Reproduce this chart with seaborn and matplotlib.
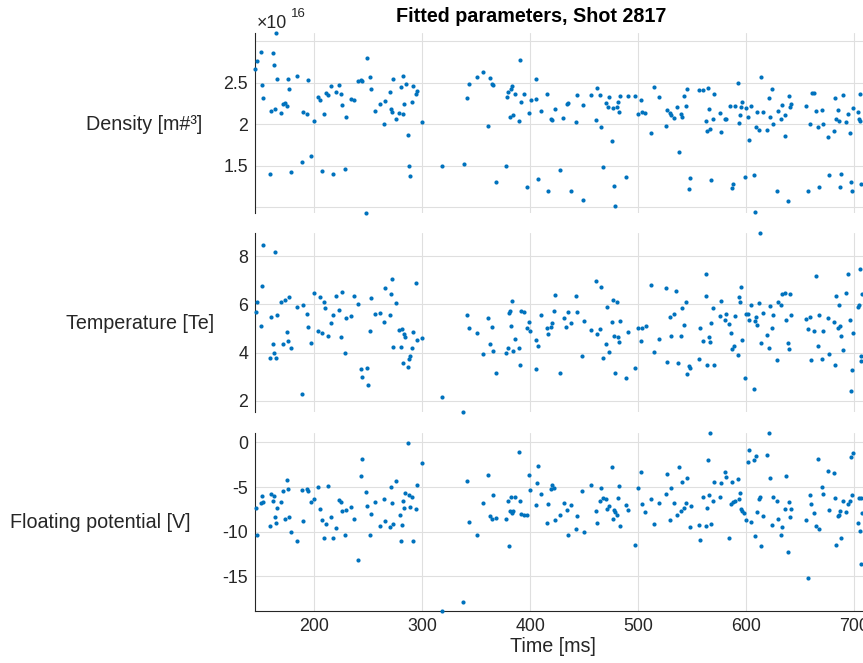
import matplotlib
matplotlib.use("Agg")
import matplotlib.pyplot as plt
import seaborn as sns

# ---------------- data ----------------
title_text = "Fitted parameters, Shot 2817"
xlabel_text = "Time [ms]"
panel_labels = ["Density [m#³]", "Temperature [Te]", "Floating potential [V]"]
x_ticks = [200, 300, 400, 500, 600, 700]

density_scale_exp = 16  # values below are in units of 1e16 m^-3
density_ticks = [1.0, 1.5, 2.0, 2.5, 3.0]
density_tick_labels = ["", "1.5", "2", "2.5", ""]
temperature_ticks = [2, 4, 6, 8]
potential_ticks = [-15, -10, -5, 0]

time_density = [
    145.2, 146.8, 150.8, 151.7, 152.9, 158.8, 159.7, 161.5, 162.8, 163.7,
    164.6, 165.8, 169.8, 170.8, 172.6, 174.8, 176.0, 176.9, 178.8, 184.6,
    188.6, 189.5, 193.8, 194.8, 197.5, 200.0, 203.4, 205.5, 207.7, 209.5,
    210.8, 212.6, 215.7, 217.8, 220.6, 223.4, 224.6, 225.8, 228.6, 229.5,
    234.5, 236.6, 240.3, 243.1, 244.6, 248.3, 249.2, 251.4, 252.6, 256.3,
    261.2, 264.3, 265.2, 270.2, 271.1, 272.3, 273.2, 275.4, 278.8, 280.3,
    281.8, 282.2, 283.4, 284.6, 286.5, 287.4, 288.3, 290.5, 291.4, 294.5,
    295.4, 299.4, 318.2, 338.5, 341.2, 343.1, 350.5, 356.3, 360.9, 363.1,
    364.3, 365.5, 368.0, 377.8, 378.8, 379.7, 381.2, 381.8, 383.1, 384.3,
    386.2, 389.5, 390.2, 391.7, 393.8, 396.9, 398.8, 400.3, 404.9, 405.8,
    407.1, 410.2, 415.1, 416.9, 418.8, 420.0, 422.8, 427.1, 430.5, 433.8,
    434.8, 437.5, 442.5, 443.7, 448.6, 449.2, 456.3, 460.6, 461.5, 464.6,
    465.5, 467.7, 470.5, 471.7, 472.6, 475.4, 476.6, 477.5, 478.5, 480.6,
    481.5, 482.5, 483.4, 488.6, 490.5, 496.6, 499.4, 502.5, 503.4, 506.5,
    511.7, 514.5, 519.4, 525.2, 526.5, 529.2, 530.2, 533.5, 535.4, 537.5,
    539.1, 540.6, 542.5, 544.5, 545.5, 547.1, 548.3, 556.3, 560.0, 562.5,
    563.7, 564.3, 565.2, 566.5, 567.4, 569.5, 570.2, 575.4, 576.3, 580.0,
    581.2, 584.6, 586.8, 588.0, 589.2, 592.3, 593.5, 594.2, 595.1, 596.3,
    598.5, 600.0, 601.2, 602.5, 604.3, 607.4, 608.3, 609.2, 610.2, 611.4,
    613.2, 615.1, 619.4, 621.2, 622.2, 623.4, 624.3, 628.3, 629.2, 632.3,
    633.2, 635.4, 636.0, 638.2, 639.1, 640.0, 641.0, 655.4, 657.2, 659.1,
    660.3, 662.2, 664.0, 666.2, 667.1, 670.2, 671.1, 676.0, 676.9, 680.9,
    681.8, 683.1, 684.9, 685.8, 687.1, 688.0, 689.8, 692.0, 693.8, 696.0,
    697.2, 697.8, 699.1, 703.1, 704.0, 705.2, 705.5, 706.2,
]
density = [
    2.665, 2.757, 2.865, 2.468, 2.315, 1.396, 2.163, 2.857, 2.709, 2.187,
    3.102, 2.544, 2.139, 2.239, 2.255, 2.219, 2.544, 2.420, 1.428, 2.584,
    1.540, 2.147, 2.118, 2.528, 1.620, 2.038, 2.327, 2.295, 1.436, 2.127,
    2.380, 2.351, 2.456, 1.404, 2.388, 2.472, 2.363, 2.235, 1.460, 2.082,
    2.299, 2.291, 2.516, 2.528, 2.520, 0.926, 2.793, 2.564, 2.424, 2.155,
    2.239, 2.006, 2.279, 2.384, 2.187, 2.147, 2.540, 2.062, 2.135, 2.452,
    2.127, 2.576, 2.239, 2.480, 1.873, 1.496, 1.372, 2.263, 2.464, 2.359,
    2.396, 2.022, 1.500, 1.520, 2.319, 2.484, 2.564, 2.624, 1.978, 2.560,
    2.480, 2.476, 1.303, 1.492, 2.327, 2.392, 2.082, 2.420, 2.456, 2.110,
    2.367, 2.034, 2.769, 2.263, 2.367, 1.243, 2.135, 2.291, 2.307, 2.548,
    1.335, 2.155, 2.367, 1.195, 2.058, 2.050, 2.183, 1.448, 2.074, 2.243,
    2.251, 1.199, 2.026, 2.355, 1.086, 2.231, 2.355, 2.054, 2.432, 2.351,
    1.962, 1.480, 2.259, 2.207, 2.327, 1.801, 2.191, 1.251, 1.018, 2.203,
    2.263, 2.151, 2.335, 1.363, 2.339, 2.343, 2.127, 2.291, 2.151, 2.139,
    1.890, 2.448, 2.327, 1.974, 2.167, 2.131, 2.110, 2.078, 2.203, 1.661,
    2.127, 2.090, 2.335, 2.215, 2.424, 1.215, 1.347, 2.408, 2.416, 2.038,
    1.922, 2.432, 2.183, 1.946, 1.323, 2.058, 2.367, 2.139, 1.902, 2.058,
    2.062, 2.215, 1.235, 1.275, 2.215, 2.492, 2.018, 2.114, 2.211, 2.267,
    1.359, 2.195, 2.086, 1.809, 2.215, 1.384, 0.942, 1.962, 2.143, 1.934,
    2.568, 2.143, 1.934, 2.319, 2.082, 2.420, 1.998, 1.191, 2.163, 2.062,
    2.235, 2.110, 1.857, 1.070, 2.339, 2.211, 2.239, 2.219, 1.199, 2.006,
    2.376, 2.376, 2.159, 1.970, 1.239, 2.175, 1.998, 1.845, 1.384, 1.922,
    2.319, 2.066, 2.171, 2.038, 1.243, 1.404, 2.351, 2.030, 2.118, 1.894,
    1.300, 1.199, 2.199, 2.143, 2.062, 2.042, 2.367, 1.283,
]

time_temperature = [
    145.8, 146.8, 150.8, 151.7, 152.6, 158.8, 159.7, 161.5, 162.8, 163.7,
    164.9, 165.8, 169.8, 170.8, 172.9, 174.8, 175.7, 176.9, 178.8, 184.6,
    188.6, 189.5, 193.8, 194.8, 197.5, 199.7, 203.7, 205.5, 207.7, 209.5,
    210.5, 212.6, 215.7, 217.5, 220.6, 223.4, 224.6, 225.8, 228.6, 229.5,
    234.5, 236.6, 240.3, 243.4, 244.6, 248.6, 249.5, 251.4, 252.6, 256.3,
    261.2, 264.3, 265.2, 270.2, 271.4, 272.3, 273.2, 275.4, 278.8, 280.3,
    281.5, 282.5, 283.1, 284.3, 286.5, 287.4, 288.3, 290.5, 291.4, 294.5,
    295.4, 299.4, 318.2, 338.2, 341.2, 343.1, 350.5, 356.3, 360.9, 363.1,
    364.3, 365.2, 368.0, 377.8, 379.1, 380.0, 381.2, 382.2, 383.1, 384.3,
    386.2, 389.5, 390.2, 391.7, 393.8, 396.9, 399.1, 400.0, 404.9, 405.8,
    407.1, 410.2, 415.1, 416.9, 418.8, 420.0, 422.2, 422.8, 427.1, 430.8,
    433.5, 434.8, 437.5, 442.5, 443.7, 448.3, 449.5, 456.6, 460.6, 461.5,
    464.6, 465.5, 467.7, 470.5, 471.4, 472.6, 475.4, 476.6, 477.5, 478.8,
    480.6, 481.5, 482.5, 483.4, 488.6, 490.8, 496.6, 499.4, 502.5, 503.4,
    506.8, 511.7, 514.5, 519.4, 525.2, 526.2, 529.5, 530.5, 533.2, 535.1,
    537.2, 539.4, 540.3, 542.2, 544.0, 545.2, 547.1, 548.3, 556.3, 557.2,
    560.0, 562.2, 563.1, 564.0, 565.2, 566.5, 567.1, 569.2, 570.2, 575.4,
    576.3, 580.3, 581.2, 584.3, 586.2, 587.1, 588.3, 589.2, 592.3, 593.2,
    594.2, 595.1, 596.3, 598.5, 600.0, 601.5, 602.5, 604.0, 607.1, 608.3,
    609.2, 610.2, 611.4, 612.3, 613.2, 615.1, 619.1, 620.9, 622.2, 623.4,
    624.3, 628.3, 629.2, 632.3, 633.2, 635.4, 636.3, 638.2, 639.1, 640.3,
    641.2, 655.1, 657.2, 659.1, 660.0, 662.2, 664.0, 666.2, 667.1, 670.2,
    671.1, 676.0, 676.9, 680.9, 681.8, 683.1, 684.9, 685.8, 687.1, 688.0,
    689.8, 692.0, 693.8, 696.0, 696.9, 697.8, 699.1, 703.1, 704.0, 705.2,
    705.8, 706.5, 707.4,
]
temperature = [
    5.69, 6.08, 5.12, 6.78, 8.46, 3.78, 5.48, 4.36, 4.00, 8.15,
    3.78, 5.58, 6.11, 4.36, 6.19, 4.87, 4.49, 6.30, 4.18, 5.90,
    2.29, 5.97, 5.59, 5.05, 4.40, 6.48, 4.90, 6.30, 4.82, 6.11,
    5.83, 4.69, 5.22, 5.54, 6.33, 5.76, 4.65, 6.53, 3.98, 5.43,
    5.50, 6.34, 6.02, 3.32, 2.98, 3.35, 2.65, 4.89, 6.27, 5.62,
    5.66, 5.28, 6.69, 5.54, 6.45, 7.07, 4.25, 6.06, 4.92, 4.25,
    4.98, 3.55, 4.79, 4.63, 3.39, 3.75, 3.85, 4.20, 4.85, 6.88,
    4.53, 4.60, 2.15, 1.54, 5.57, 5.01, 4.80, 3.96, 5.43, 4.35,
    5.07, 4.07, 3.16, 3.99, 4.18, 5.65, 5.72, 5.12, 6.15, 4.06,
    4.57, 4.21, 3.48, 5.72, 5.68, 5.01, 5.26, 4.89, 4.54, 3.32,
    4.27, 5.57, 5.03, 4.76, 5.07, 5.23, 5.72, 6.38, 3.15, 5.43,
    5.08, 5.68, 5.21, 6.33, 5.70, 3.85, 5.30, 4.94, 6.96, 4.78,
    4.99, 6.74, 3.77, 4.36, 5.88, 4.04, 5.29, 6.19, 4.69, 3.17,
    6.09, 4.65, 4.43, 5.30, 2.95, 4.85, 3.35, 5.04, 4.50, 5.04,
    5.10, 6.81, 4.02, 4.57, 6.69, 3.63, 5.46, 4.69, 5.62, 6.55,
    3.55, 4.68, 5.87, 5.14, 6.11, 3.10, 3.44, 3.37, 3.75, 5.01,
    4.50, 6.33, 7.24, 3.49, 4.63, 4.46, 5.21, 5.84, 3.49, 5.51,
    6.12, 5.36, 5.62, 5.18, 4.82, 4.13, 4.29, 5.50, 3.89, 6.30,
    6.09, 6.73, 4.53, 2.94, 5.62, 5.62, 5.35, 5.99, 2.51, 5.33,
    5.46, 5.16, 6.04, 8.97, 4.38, 5.66, 4.75, 4.20, 5.94, 5.01,
    5.58, 3.71, 6.08, 5.97, 6.45, 6.49, 5.34, 4.38, 4.13, 6.41,
    5.55, 5.39, 4.99, 5.48, 3.71, 4.89, 7.17, 4.28, 5.58, 3.73,
    4.90, 5.43, 3.96, 5.28, 3.49, 6.33, 5.04, 5.97, 5.12, 4.68,
    4.09, 6.49, 7.25, 5.37, 2.43, 3.28, 4.82, 5.90, 5.97, 7.47,
    3.84, 3.64, 6.45,
]

time_potential = [
    145.8, 146.8, 150.8, 151.7, 152.9, 158.8, 159.7, 161.5, 162.8, 163.7,
    164.6, 165.8, 169.8, 170.8, 172.6, 174.8, 175.7, 176.9, 178.8, 184.6,
    188.6, 189.5, 193.8, 194.8, 197.5, 199.7, 203.7, 205.5, 207.7, 209.5,
    210.8, 212.6, 215.7, 217.8, 220.6, 223.4, 224.6, 225.5, 228.6, 229.5,
    234.5, 236.6, 240.3, 243.4, 244.6, 248.3, 249.2, 251.4, 252.6, 256.3,
    261.2, 264.3, 265.2, 270.2, 271.4, 272.3, 273.2, 275.4, 279.1, 280.3,
    281.5, 282.5, 283.4, 284.3, 286.5, 287.4, 288.6, 290.5, 291.4, 294.5,
    295.4, 299.4, 318.2, 338.2, 341.2, 343.1, 350.5, 356.3, 360.9, 363.1,
    364.3, 365.2, 368.0, 377.8, 379.1, 380.0, 381.2, 382.2, 383.1, 384.0,
    386.2, 389.2, 390.2, 391.7, 393.8, 396.9, 399.1, 400.0, 404.9, 406.2,
    407.1, 410.2, 415.1, 416.9, 418.8, 420.0, 422.2, 423.1, 427.1, 430.8,
    433.8, 434.8, 437.5, 442.8, 443.7, 448.3, 449.5, 456.6, 460.6, 461.5,
    464.6, 465.5, 467.7, 470.5, 471.4, 472.6, 475.4, 476.6, 477.5, 478.5,
    480.6, 481.5, 482.5, 483.4, 488.6, 490.5, 496.6, 499.4, 502.5, 503.7,
    506.5, 511.7, 514.5, 519.4, 525.2, 526.5, 529.5, 530.5, 533.5, 535.4,
    537.5, 539.4, 540.6, 542.5, 544.3, 545.5, 547.4, 548.6, 556.3, 557.2,
    560.0, 562.5, 563.4, 564.3, 565.2, 566.5, 567.4, 569.2, 570.2, 575.4,
    576.3, 580.3, 581.2, 584.3, 586.2, 587.1, 588.0, 589.2, 592.3, 593.2,
    594.2, 595.1, 596.3, 597.8, 600.0, 601.2, 602.5, 604.0, 607.1, 608.3,
    609.2, 610.2, 611.4, 612.3, 613.2, 615.1, 619.1, 620.9, 622.2, 623.4,
    624.3, 628.3, 629.2, 632.3, 633.2, 635.4, 636.3, 638.2, 639.1, 640.3,
    641.2, 655.1, 657.2, 659.1, 660.0, 662.2, 664.0, 666.2, 667.1, 670.2,
    671.1, 676.0, 676.9, 680.9, 681.8, 683.1, 684.9, 685.8, 687.1, 688.0,
    689.8, 692.0, 693.8, 696.0, 696.9, 697.8, 699.1, 703.1, 704.0, 705.2,
    705.8, 706.5, 707.4,
]
potential = [
    -7.31, -10.41, -6.83, -6.01, -6.68, -9.40, -5.78, -6.53, -5.97, -8.40,
    -9.07, -7.35, -6.72, -5.41, -8.62, -4.22, -5.19, -8.32, -10.00, -11.08,
    -5.30, -8.77, -5.22, -5.41, -6.72, -6.38, -4.96, -7.43, -8.69, -10.71,
    -9.10, -4.93, -8.40, -10.75, -9.63, -6.46, -6.64, -7.72, -10.37, -7.57,
    -7.28, -8.62, -13.21, -3.77, -1.87, -5.52, -7.09, -10.37, -8.02, -6.68,
    -9.40, -6.31, -8.84, -9.44, -4.96, -6.79, -9.10, -4.29, -8.10, -11.08,
    -9.29, -6.57, -7.31, -5.71, -0.07, -5.86, -7.20, -6.08, -11.00, -7.50,
    -4.81, -2.28, -18.92, -17.84, -4.33, -8.92, -10.41, -6.75, -3.62, -8.28,
    -8.54, -5.93, -8.43, -8.58, -6.53, -11.60, -7.65, -6.08, -7.95, -7.65,
    -6.16, -1.12, -6.53, -8.06, -8.13, -8.13, -3.66, -5.34, -7.01, -4.51,
    -2.69, -5.82, -9.07, -6.94, -5.19, -4.81, -5.15, -8.73, -8.10, -6.83,
    -7.57, -10.37, -7.01, -9.70, -8.25, -5.41, -10.04, -4.78, -7.69, -9.07,
    -6.57, -5.11, -6.19, -6.34, -7.43, -7.13, -2.80, -8.62, -7.57, -7.80,
    -8.13, -6.19, -4.89, -9.37, -7.05, -7.61, -11.46, -5.15, -3.32, -6.87,
    -7.76, -6.31, -9.18, -6.79, -5.75, -3.58, -8.69, -5.07, -6.83, -8.13,
    -2.72, -7.72, -4.48, -7.31, -6.83, -3.96, -9.51, -7.09, -9.22, -10.93,
    -6.08, -9.37, -7.31, -2.01, -5.90, 1.04, -9.10, -6.57, -4.48, -6.08,
    -4.55, -3.32, -3.84, -10.75, -6.90, -4.40, -6.68, -6.53, -4.10, -6.34,
    -5.63, -7.50, -7.72, -7.95, -8.73, -2.24, -0.86, -8.92, -1.98, -10.49,
    -1.46, -7.76, -6.31, -6.12, -11.64, -8.28, -1.42, 1.12, -4.03, -9.25,
    -6.16, -6.53, -8.54, -10.34, -9.44, -7.50, -3.77, -12.28, -6.64, -8.32,
    -7.46, -8.66, -15.19, -5.86, -6.90, -7.95, -9.40, -1.83, -9.70, -5.00,
    -5.82, -3.25, -7.54, -3.47, -6.23, -11.53, -8.25, -8.13, -7.65, -10.71,
    -6.53, -7.76, -6.94, -6.53, -1.68, -5.86, -1.16, -9.03, -6.19, -9.89,
    -6.23, -13.62, -7.95,
]

# ---------------- styling ----------------
sns.set_style("white")
plt.rcParams["font.family"] = ["Liberation Sans", "DejaVu Sans"]

BLUE = "#0072BD"
DARK = "#262626"
GRID = "#dfdfdf"
W, H = 863, 663
TICK_FS = 12.8
LABEL_FS = 14.2

fig = plt.figure(figsize=(W / 100, H / 100), dpi=100)

AX_LEFT_PX = 255
AX_RIGHT_PX = 900          # axes run past the right edge of the figure
XMIN = 145.3
PX_PER_MS = 1.0806
XMAX = XMIN + (AX_RIGHT_PX - AX_LEFT_PX) / PX_PER_MS


def add_axes(top_px, bottom_px):
    return fig.add_axes([AX_LEFT_PX / W, 1 - bottom_px / H,
                         (AX_RIGHT_PX - AX_LEFT_PX) / W,
                         (bottom_px - top_px) / H])


panels = [
    (time_density, density, density_ticks, density_tick_labels, 32.7, 213.3),
    (time_temperature, temperature, temperature_ticks,
     [str(v) for v in temperature_ticks], 232.7, 412.0),
    (time_potential, potential, potential_ticks,
     [str(v) for v in potential_ticks], 432.5, 611.3),
]

axes = []
for i, (tx, vy, yt, ytl, top_px, bot_px) in enumerate(panels):
    ax = add_axes(top_px, bot_px)
    sns.scatterplot(x=tx, y=vy, ax=ax, color=BLUE, s=9, linewidth=0,
                    clip_on=False, zorder=3)
    ax.set_xlim(XMIN, XMAX)
    ax.set_ylim(min(vy), max(vy))
    ax.set_xticks(x_ticks)
    ax.set_yticks(yt)
    ax.set_yticklabels(ytl)
    ax.set_xlabel("")
    ax.set_ylabel("")
    ax.grid(True, color=GRID, linewidth=0.8)
    ax.set_axisbelow(True)
    for side in ["top", "right"]:
        ax.spines[side].set_visible(False)
    ax.spines["left"].set_color(DARK)
    ax.spines["left"].set_linewidth(0.8)
    ax.tick_params(axis="y", direction="in", length=4.5, width=0.8,
                   color=DARK, labelcolor=DARK, labelsize=TICK_FS, pad=5)
    if i < 2:
        ax.spines["bottom"].set_visible(False)
        ax.tick_params(axis="x", length=0, labelbottom=False)
    else:
        ax.spines["bottom"].set_color(DARK)
        ax.spines["bottom"].set_linewidth(0.8)
        ax.tick_params(axis="x", direction="in", length=4.5, width=0.8,
                       color=DARK, labelcolor=DARK, labelsize=TICK_FS, pad=5)
    axes.append(ax)

# horizontal y-labels placed to the left of each panel
label_pos = [(202, 124), (214, 323), (190, 523)]
for text, (xr, yc) in zip(panel_labels, label_pos):
    fig.text(xr / W, 1 - yc / H, text, ha="right", va="center",
             fontsize=LABEL_FS, color=DARK)

# exponent marker for the density axis
fig.text(257 / W, 1 - 23 / H, "×10", ha="left", va="center",
         fontsize=TICK_FS, color=DARK)
fig.text(291 / W, 1 - 14 / H, str(density_scale_exp), ha="left", va="center",
         fontsize=9.5, color=DARK)

fig.text(531 / W, 1 - 16 / H, title_text, ha="center", va="center",
         fontsize=LABEL_FS, fontweight="bold", color="black")
fig.text(553 / W, 1 - 647 / H, xlabel_text, ha="center", va="center",
         fontsize=LABEL_FS, color=DARK)

fig.savefig("out.png", dpi=100)
